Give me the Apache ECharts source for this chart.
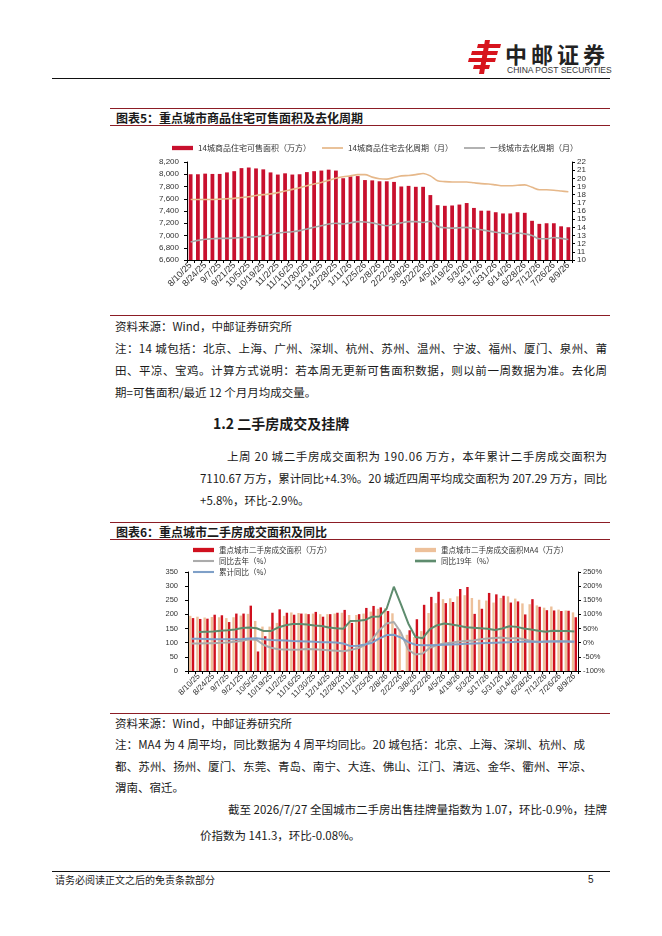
<!DOCTYPE html>
<html lang="zh-CN"><head><meta charset="utf-8"><title>重点城市商品住宅及二手房</title>
<script src="https://cdn.jsdelivr.net/npm/echarts@6.0.0/dist/echarts.min.js"></script>
<style>
html,body{margin:0;padding:0;background:#fff;}
body{width:662px;height:936px;position:relative;overflow:hidden;font-family:"Noto Sans CJK SC","Noto Sans",sans-serif;color:#1a1a1a;}
.t{position:absolute;white-space:nowrap;line-height:16px;font-size:11.5px;}
.rule{position:absolute;height:1px;}
.red{background:#8c1d25;}
.chart{position:absolute;}
</style></head>
<body>
<svg style="position:absolute;left:468px;top:40px" width="34" height="34" viewBox="0 0 34 34">
<g fill="#d7141d">
<polygon points="10,4 33,4 32,8 9,8"/>
<polygon points="4,11 30,11 29,15 3,15"/>
<polygon points="1,18 28,18 27,22 0,22"/>
<polygon points="6,25 22,25 21,29 5,29"/>
<polygon points="17,0 22,0 16,34 11,34"/>
</g></svg>
<div class="t" style="left:505px;top:40px;font-size:22px;line-height:26px;font-weight:700;letter-spacing:4px;color:#222">中邮证券</div>
<div class="t" style="left:507px;top:65px;font-size:8.5px;line-height:10px;color:#333;font-family:'Liberation Sans',sans-serif">CHINA POST SECURITIES</div>
<div class="rule" style="left:52px;top:78px;width:558px;background:#111"></div>

<div class="rule red" style="left:110px;top:108px;width:500px"></div>
<div class="t" style="left:116px;top:110px;font-size:12px;font-weight:700">图表5：重点城市商品住宅可售面积及去化周期</div>
<div class="rule red" style="left:110px;top:125px;width:500px"></div>
<div id="c1" class="chart" style="left:110px;top:135px;width:500px;height:178px"></div>
<div class="rule red" style="left:110px;top:315px;width:500px"></div>

<div class="t" style="left:115px;top:318px">资料来源：Wind，中邮证券研究所</div>
<div class="t" data-w="492" style="left:115px;top:340px">注：14 城包括：北京、上海、广州、深圳、杭州、苏州、温州、宁波、福州、厦门、泉州、莆</div>
<div class="t" data-w="492" style="left:115px;top:362px">田、平凉、宝鸡。计算方式说明：若本周无更新可售面积数据，则以前一周数据为准。去化周</div>
<div class="t" style="left:115px;top:384px">期=可售面积/最近 12 个月月均成交量。</div>

<div class="t" style="left:213px;top:414px;font-size:14px;line-height:18px;font-weight:700">1.2 二手房成交及挂牌</div>
<div class="t" data-w="380" style="left:227px;top:448px">上周 20 城二手房成交面积为 190.06 万方，本年累计二手房成交面积为</div>
<div class="t" data-w="407" style="left:200px;top:470px">7110.67 万方，累计同比+4.3%。20 城近四周平均成交面积为 207.29 万方，同比</div>
<div class="t" style="left:200px;top:492px">+5.8%，环比-2.9%。</div>

<div class="rule red" style="left:110px;top:522px;width:500px"></div>
<div class="t" style="left:116px;top:524px;font-size:12px;font-weight:700">图表6：重点城市二手房成交面积及同比</div>
<div class="rule red" style="left:110px;top:539px;width:500px"></div>
<div id="c2" class="chart" style="left:110px;top:542px;width:500px;height:170px"></div>
<div class="rule red" style="left:110px;top:713px;width:500px"></div>

<div class="t" style="left:115px;top:715px">资料来源：Wind，中邮证券研究所</div>
<div class="t" data-w="470" style="left:115px;top:736px">注：MA4 为 4 周平均，同比数据为 4 周平均同比。20 城包括：北京、上海、深圳、杭州、成</div>
<div class="t" data-w="477" style="left:115px;top:758px">都、苏州、扬州、厦门、东莞、青岛、南宁、大连、佛山、江门、清远、金华、衢州、平凉、</div>
<div class="t" style="left:115px;top:779px">渭南、宿迁。</div>
<div class="t" data-w="379" style="left:228px;top:801px">截至 2026/7/27 全国城市二手房出售挂牌量指数为 1.07，环比-0.9%，挂牌</div>
<div class="t" style="left:200px;top:827px">价指数为 141.3，环比-0.08%。</div>

<div class="rule" style="left:52px;top:871px;width:558px;background:#111"></div>
<div class="t" style="left:55px;top:873px;font-size:10px;line-height:13px">请务必阅读正文之后的免责条款部分</div>
<div class="t" style="left:588px;top:873px;font-size:10px;line-height:13px;font-family:'Liberation Sans',sans-serif">5</div>

<script>
// ---------- Chart 1 data (weekly, 8/10/25 - 8/9/26) ----------
const weeks1 = ['8/10/25','8/17/25','8/24/25','8/31/25','9/7/25','9/14/25','9/21/25','9/28/25','10/5/25','10/12/25','10/19/25','10/26/25','11/2/25','11/9/25','11/16/25','11/23/25','11/30/25','12/7/25','12/14/25','12/21/25','12/28/25','1/4/26','1/11/26','1/18/26','1/25/26','2/1/26','2/8/26','2/15/26','2/22/26','3/1/26','3/8/26','3/15/26','3/22/26','3/29/26','4/5/26','4/12/26','4/19/26','4/26/26','5/3/26','5/10/26','5/17/26','5/24/26','5/31/26','6/7/26','6/14/26','6/21/26','6/28/26','7/5/26','7/12/26','7/19/26','7/26/26','8/2/26','8/9/26'];
const stock14 = [8000,8000,8010,8005,8005,8030,8050,8100,8110,8095,8080,8030,7995,8015,7995,8000,8035,8050,8060,8075,8060,7935,7965,7970,7905,7900,7885,7885,7875,7800,7810,7795,7795,7660,7495,7485,7490,7505,7530,7450,7405,7405,7380,7360,7360,7380,7370,7240,7190,7200,7200,7150,7135];
const cycle14 = [17.4,17.4,17.4,17.4,17.45,17.5,17.55,17.65,17.75,17.9,18.0,18.1,18.25,18.45,18.65,18.85,19.1,19.3,19.5,19.75,20.0,20.2,20.3,20.45,20.45,20.15,19.95,19.9,20.1,20.3,20.35,20.45,20.6,20.3,19.7,19.6,19.55,19.55,19.55,19.45,19.35,19.3,19.2,19.1,19.1,19.15,19.2,18.9,18.6,18.6,18.55,18.45,18.35];
const cycleTier1 = [12.2,12.4,12.55,12.6,12.65,12.65,12.7,12.75,12.8,12.85,12.95,13.1,13.3,13.4,13.45,13.6,13.8,14.0,14.2,14.4,14.5,14.4,14.55,14.7,14.65,14.55,14.35,14.2,14.35,14.55,14.7,14.7,14.6,14.75,14.1,13.95,13.9,13.95,14.0,13.85,13.7,13.55,13.4,13.3,13.2,13.3,13.2,13.0,12.6,12.6,12.75,12.65,12.5];
const names1 = ['14城商品住宅可售面积（万方）','14城商品住宅去化周期（月）','一线城市去化周期（月）'];

// ---------- Chart 2 data (weekly, 8/3/25 - 8/9/26) ----------
const weeks2 = ['8/3/25'].concat(weeks1);
const area20 = [187,184,185,199,197,173,203,203,231,69,123,206,218,206,199,203,201,209,192,201,206,216,170,201,223,230,225,212,151,3,144,183,234,262,280,240,244,290,297,202,220,276,271,266,242,246,200,254,227,215,214,212,213,190.06];
const area20MA4 = [195,192,189,191,190,187,190,196,202,177,157,157,170,195,207,205,203,203,201,201,203,206,198,198,203,210,220,222,204,146,128,120,141,205,240,254,257,264,268,258,252,249,242,258,264,256,239,236,232,224,228,217,214,207.29];
const yoyLastYear = [-3,-3,-2,-2,0,1,3,7,12,10,-8,-18,-23,-24,-25,-24,-22,-23,-25,-27,-28,-30,-26,-20,-8,12,45,68,73,35,-25,-42,-38,-18,-8,-3,0,4,6,8,12,15,17,18,15,17,12,6,2,3,5,5,4,2];
const yoy2019 = [null,38,39,40,42,44,47,52,54,51,41,41,54,62,66,66,64,61,59,54,51,49,77,78,80,92,93,120,198,135,68,20,16,48,62,68,64,60,55,53,51,49,45,50,58,56,50,47,42,39,42,41,41,40];
const yoyCumulative = [14,14,13,12,12,12,12,13,15,16,12,10,9,8,6,5,4,3,2,2,1,-3,-12,-11,-6,0,15,27,28,18,2,-7,-9,-9,-8,-7,-6,-5,-4,-3,-2,-1,0,1,2,3,3,3,3,4,4,4,4,4.3];
const names2 = ['重点城市二手房成交面积（万方）','重点城市二手房成交面积MA4（万方）','同比去年（%）','同比19年（%）','累计同比（%）'];

const CJK = '"Noto Sans CJK SC", sans-serif';
const LAT = '"Liberation Sans", Arial, sans-serif';
const LINE_ICON = 'path://M0,0H22V1.8H0Z';
const BAR_ICON = 'path://M0,0H22V4.5H0Z';

function lg(name, icon, left, top, fs){
  return {data:[{name:name, icon:icon}], left:left, top:top, padding:0, itemWidth:21, itemHeight:8,
    selectedMode:false, textStyle:{fontSize:fs, color:'#333', fontFamily:CJK, lineHeight:10}};
}
function catAxis(data, fs, labelInterval){
  return {type:'category', data:data, boundaryGap:true,
    axisLine:{show:true, lineStyle:{color:'#000', width:1}},
    axisTick:{show:true, interval:0, length:3, inside:false, lineStyle:{color:'#000'}},
    axisLabel:{interval:labelInterval, rotate:45, fontSize:fs, color:'#333', margin:4, fontFamily:LAT},
    splitLine:{show:false}};
}
function valAxis(opt){
  return Object.assign({type:'value', splitLine:{show:false},
    axisLine:{show:true, lineStyle:{color:'#000', width:1}},
    axisTick:{show:true, length:3, inside:false, lineStyle:{color:'#000'}}}, opt);
}

const RED = '#C8102E', TAN = '#E6B88A', GREY = '#A6A6A6';

const c1 = echarts.init(document.getElementById('c1'), null, {renderer:'canvas'});
c1.setOption({
  animation:false,
  grid:{left:77, right:38, top:27, bottom:53, containLabel:false, outerBoundsMode:'none'},
  legend:[lg(names1[0], BAR_ICON, 62, 8, 8), lg(names1[1], LINE_ICON, 212, 8, 8), lg(names1[2], LINE_ICON, 354, 8, 8)],
  xAxis:catAxis(weeks1, 9, 1),
  yAxis:[
    valAxis({min:6600, max:8200, interval:200, position:'left',
      axisLabel:{fontSize:8, color:'#333', margin:8, fontFamily:LAT, formatter:v=>v.toLocaleString('en-US')}}),
    valAxis({min:10, max:22, interval:1, position:'right',
      axisLabel:{fontSize:8, color:'#333', margin:5, fontFamily:LAT}})
  ],
  series:[
    {name:names1[0], type:'bar', data:stock14, barCategoryGap:'48%', itemStyle:{color:RED}},
    {name:names1[1], type:'line', yAxisIndex:1, data:cycle14, smooth:0.3, symbol:'none', itemStyle:{color:TAN}, lineStyle:{color:TAN, width:1.6}},
    {name:names1[2], type:'line', yAxisIndex:1, data:cycleTier1, smooth:0.3, symbol:'none', itemStyle:{color:GREY}, lineStyle:{color:GREY, width:1.6}}
  ]
});

const RED2 = '#D0101E', TAN2 = '#EDC09A', GREY2 = '#ABABAB', GREEN2 = '#5E8C6E', BLUE2 = '#7FA0C8';
const c2 = echarts.init(document.getElementById('c2'), null, {renderer:'canvas'});
c2.setOption({
  animation:false,
  grid:{left:78, right:32, top:30, bottom:41, containLabel:false, outerBoundsMode:'none'},
  legend:[
    lg(names2[0], BAR_ICON, 83, 3, 7.5), lg(names2[1], BAR_ICON, 305, 3, 7.5),
    lg(names2[2], 'path://M0,0H22V2.2H0Z', 83, 14, 7.5), lg(names2[3], 'path://M0,0H22V2.8H0Z', 305, 14, 7.5),
    lg(names2[4], 'path://M0,0H22V2.2H0Z', 83, 25, 7.5)
  ],
  xAxis:catAxis(weeks2, 8, (i)=>i%2===1),
  yAxis:[
    valAxis({min:0, max:350, interval:50, position:'left',
      axisLabel:{fontSize:7.5, color:'#333', margin:10, fontFamily:LAT}}),
    valAxis({min:-100, max:250, interval:50, position:'right',
      axisLabel:{fontSize:7.5, color:'#333', margin:5, fontFamily:LAT, formatter:'{value}%'}})
  ],
  series:[
    {name:names2[1], type:'bar', data:area20MA4, barCategoryGap:'28%', barGap:'15%', itemStyle:{color:TAN2}},
    {name:names2[0], type:'bar', data:area20, barCategoryGap:'28%', barGap:'15%', itemStyle:{color:RED2}},
    {name:names2[2], type:'line', yAxisIndex:1, data:yoyLastYear, symbol:'none', itemStyle:{color:GREY2}, lineStyle:{color:GREY2, width:2}},
    {name:names2[3], type:'line', yAxisIndex:1, data:yoy2019, symbol:'none', connectNulls:false, itemStyle:{color:GREEN2}, lineStyle:{color:GREEN2, width:2}},
    {name:names2[4], type:'line', yAxisIndex:1, data:yoyCumulative, symbol:'none', itemStyle:{color:BLUE2}, lineStyle:{color:BLUE2, width:2}}
  ]
});

// stretch justified text lines to their measured widths
function fitLines(){
  document.querySelectorAll('[data-w]').forEach(el=>{
    el.style.letterSpacing = '0px';
    const w = el.getBoundingClientRect().width;
    const n = Array.from(el.textContent).length;
    el.style.letterSpacing = ((+el.dataset.w - w) / (n - 1)) + 'px';
  });
}
fitLines();
if (document.fonts && document.fonts.ready) document.fonts.ready.then(fitLines);
</script>
</body></html>
